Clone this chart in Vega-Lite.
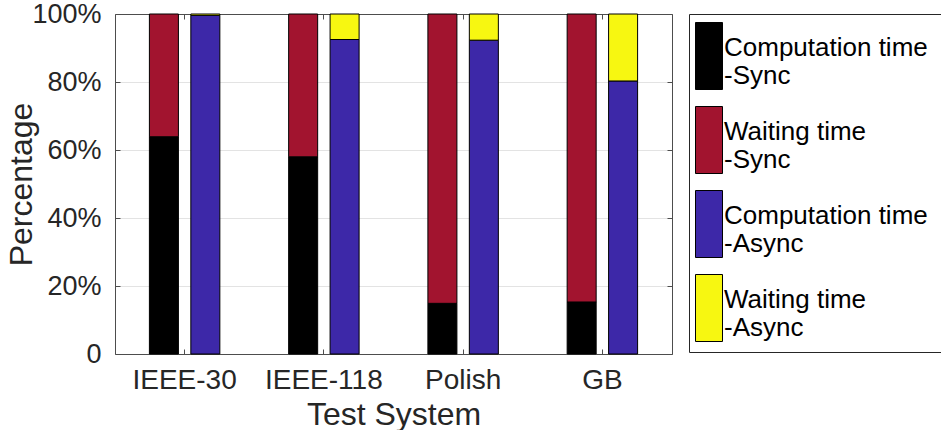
{
  "$schema": "https://vega.github.io/schema/vega-lite/v6.json",
  "width": 557,
  "height": 340,
  "autosize": {"type": "none"},
  "padding": {"left": 115, "top": 14, "right": 269, "bottom": 76},
  "background": "white",
  "config": {
    "view": {"stroke": null},
    "font": "Liberation Sans",
    "axis": {
      "labelFont": "Liberation Sans",
      "titleFont": "Liberation Sans",
      "labelColor": "#262626",
      "titleColor": "#262626",
      "titleFontWeight": "normal",
      "domainColor": "#4d4d4d",
      "tickColor": "#4d4d4d",
      "domainWidth": 1,
      "tickWidth": 1
    }
  },
  "data": {
    "values": [
      {"system": "IEEE-30", "mode": "Sync", "type": "Computation time -Sync", "value": 63.9},
      {"system": "IEEE-30", "mode": "Sync", "type": "Waiting time -Sync", "value": 36.1},
      {"system": "IEEE-30", "mode": "Async", "type": "Computation time -Async", "value": 99.6},
      {"system": "IEEE-30", "mode": "Async", "type": "Waiting time -Async", "value": 0.4},
      {"system": "IEEE-118", "mode": "Sync", "type": "Computation time -Sync", "value": 58.0},
      {"system": "IEEE-118", "mode": "Sync", "type": "Waiting time -Sync", "value": 42.0},
      {"system": "IEEE-118", "mode": "Async", "type": "Computation time -Async", "value": 92.5},
      {"system": "IEEE-118", "mode": "Async", "type": "Waiting time -Async", "value": 7.5},
      {"system": "Polish", "mode": "Sync", "type": "Computation time -Sync", "value": 14.9},
      {"system": "Polish", "mode": "Sync", "type": "Waiting time -Sync", "value": 85.1},
      {"system": "Polish", "mode": "Async", "type": "Computation time -Async", "value": 92.3},
      {"system": "Polish", "mode": "Async", "type": "Waiting time -Async", "value": 7.7},
      {"system": "GB", "mode": "Sync", "type": "Computation time -Sync", "value": 15.3},
      {"system": "GB", "mode": "Sync", "type": "Waiting time -Sync", "value": 84.7},
      {"system": "GB", "mode": "Async", "type": "Computation time -Async", "value": 80.3},
      {"system": "GB", "mode": "Async", "type": "Waiting time -Async", "value": 19.7}
    ]
  },
  "layer": [
    {
      "mark": {"type": "bar", "stroke": "#000000", "strokeWidth": 1},
      "encoding": {
        "x": {
          "field": "system",
          "type": "nominal",
          "sort": ["IEEE-30", "IEEE-118", "Polish", "GB"],
          "scale": {"paddingInner": 0, "paddingOuter": 0},
          "axis": {
            "orient": "bottom",
            "title": "Test System",
            "titleFontSize": 32,
            "titlePadding": 5,
            "labelFontSize": 28,
            "labelAngle": 0,
            "tickSize": -5,
            "labelPadding": 17
          }
        },
        "xOffset": {
          "field": "mode",
          "type": "nominal",
          "sort": ["Sync", "Async"],
          "scale": {"paddingInner": 0.3, "paddingOuter": 0.83}
        },
        "y": {
          "field": "value",
          "type": "quantitative",
          "stack": "zero",
          "scale": {"domain": [0, 100], "nice": false},
          "axis": {
            "orient": "left",
            "title": "Percentage",
            "titleFontSize": 32,
            "titlePadding": -7,
            "labelFontSize": 27,
            "values": [0, 20, 40, 60, 80, 100],
            "labelExpr": "datum.value == 0 ? '0' : datum.value + '%'",
            "tickSize": -5,
            "labelPadding": 19,
            "grid": true,
            "gridColor": "#e3e3e3",
            "gridWidth": 1
          }
        },
        "order": {"field": "type", "sort": "ascending"},
        "color": {
          "field": "type",
          "type": "nominal",
          "scale": {
            "domain": ["Computation time -Sync", "Waiting time -Sync", "Computation time -Async", "Waiting time -Async"],
            "range": ["#000000", "#A2142F", "#3D28A8", "#F7F711"]
          },
          "legend": {
            "orient": "none",
            "legendX": 574,
            "legendY": 0,
            "title": null,
            "padding": 8,
            "rowPadding": 12,
            "strokeColor": "#262626",
            "fillColor": "white",
            "symbolType": "M-1,-1H-0.194V1H-1Z",
            "symbolSize": 4489,
            "symbolOffset": -2,
            "symbolStrokeColor": "#000000",
            "symbolStrokeWidth": 1,
            "symbolOpacity": 1,
            "labelFont": "Liberation Sans",
            "labelFontSize": 26,
            "labelColor": "#000000",
            "labelLimit": 400,
            "labelOffset": -39,
            "labelBaseline": "alphabetic",
            "labelExpr": "[substring(datum.label, 0, indexof(datum.label, ' -')) + '\u2800\u2800\u2800', substring(datum.label, indexof(datum.label, ' -') + 1)]"
          }
        }
      }
    },
    {
      "mark": {"type": "bar", "opacity": 0},
      "encoding": {
        "x": {
          "field": "system",
          "type": "nominal",
          "sort": ["IEEE-30", "IEEE-118", "Polish", "GB"],
          "axis": {"orient": "top", "title": null, "labels": false, "tickSize": -5}
        },
        "y": {
          "field": "value",
          "type": "quantitative",
          "stack": "zero",
          "axis": {"orient": "right", "title": null, "labels": false, "values": [0, 20, 40, 60, 80, 100], "tickSize": -5, "grid": false}
        }
      }
    }
  ],
  "resolve": {"axis": {"x": "independent", "y": "independent"}}
}
